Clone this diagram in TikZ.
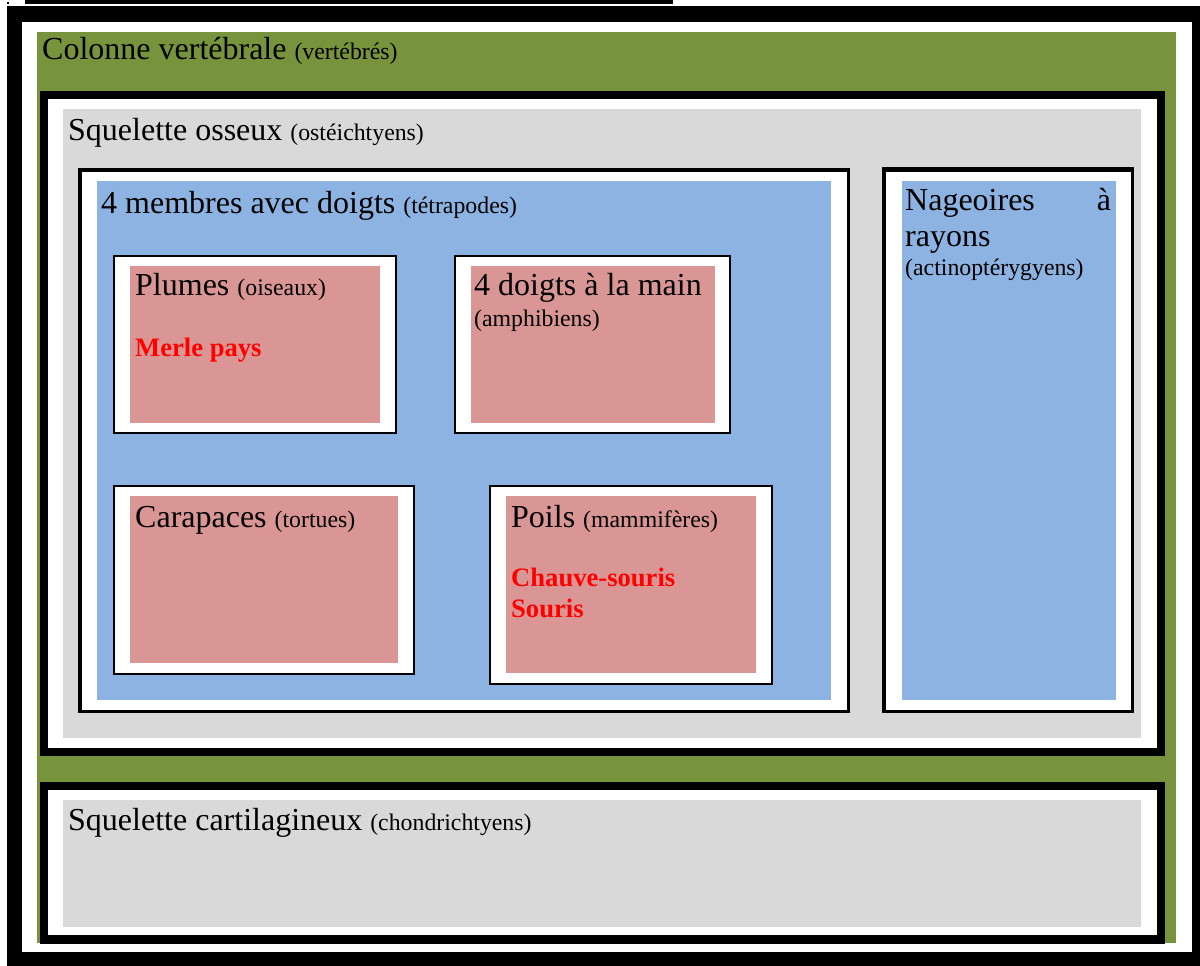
\documentclass[tikz,border=0pt]{standalone}
\usepackage{fontspec}
\setmainfont{Liberation Serif}
\definecolor{vert}{HTML}{77933C}
\definecolor{gris}{HTML}{D9D9D9}
\definecolor{bleu}{HTML}{8DB3E2}
\definecolor{rose}{HTML}{D99694}
\newcommand{\grand}{\fontsize{32}{36}\selectfont}
\newcommand{\petit}{\fontsize{23.8}{28}\selectfont}

\begin{document}
\begin{tikzpicture}[x=1pt,y=-1pt,
    titre/.style={anchor=base west, inner sep=0pt, font=\grand},
    sous/.style={anchor=base west, inner sep=0pt, font=\petit},
    espece/.style={anchor=base west, inner sep=0pt, text=red, font=\fontsize{26.6}{31}\selectfont\bfseries}]
    \useasboundingbox (0,0) rectangle (1200,966);
    \fill[white] (0,0) rectangle (1200,966);
    \fill (25,0) rectangle (673,4);
    \fill (7,2) rectangle (9,4);
    \fill (7,6) rectangle (1200,966);
    \fill[white] (22,22) rectangle (1192,952);
    \fill[vert] (37,32) rectangle (1176,943);

    \fill (40,91) rectangle (1165,756);
    \fill[white] (48,99) rectangle (1157,748);
    \fill[gris] (63,109) rectangle (1141,738);

    \fill (40,782) rectangle (1165,944);
    \fill[white] (48,790) rectangle (1157,935);
    \fill[gris] (63,800) rectangle (1141,927);

    \fill (78,168) rectangle (850,713);
    \fill[white] (82,172) rectangle (847,710);
    \fill[bleu] (97,181) rectangle (831,700);

    \fill (882,167) rectangle (1134,713);
    \fill[white] (886,172) rectangle (1131,710);
    \fill[bleu] (902,181) rectangle (1116,700);

    \fill (113,255) rectangle (397,434);
    \fill[white] (115,257) rectangle (395,432);
    \fill[rose] (130,266) rectangle (380,423);

    \fill (454,255) rectangle (731,434);
    \fill[white] (456,257) rectangle (729,432);
    \fill[rose] (471,266) rectangle (715,423);

    \fill (113,485) rectangle (415,675);
    \fill[white] (115,487) rectangle (413,673);
    \fill[rose] (130,496) rectangle (398,663);

    \fill (489,485) rectangle (773,685);
    \fill[white] (491,487) rectangle (771,683);
    \fill[rose] (506,496) rectangle (756,673);

    \node[titre] (colonne) at (42,60) {Colonne vertébrale {\petit(vertébrés)}};
    \node[titre] (osseux) at (68,140) {Squelette osseux {\petit(ostéichtyens)}};
    \node[titre] (tetra) at (101,213) {4 membres avec doigts {\petit(tétrapodes)}};
    \node[titre, text width=206pt, align=left] (nageoires) at (905,210)
        {Nageoires\hfill à\\rayons\\[-7pt]{\petit(actinoptérygyens)}};
    \node[titre] (plumes) at (135,295) {Plumes {\petit(oiseaux)}};
    \node[espece] (merle) at (135,356) {Merle pays};
    \node[titre] (doigts) at (474,295) {4 doigts à la main};
    \node[sous] (amphi) at (474,326) {(amphibiens)};
    \node[titre] (carapaces) at (135,527) {Carapaces {\petit(tortues)}};
    \node[titre] (poils) at (511,527) {Poils {\petit(mammifères)}};
    \node[espece] (chauve) at (511,586) {Chauve-souris};
    \node[espece] (souris) at (511,617) {Souris};
    \node[titre] (cartil) at (68,830) {Squelette cartilagineux {\petit(chondrichtyens)}};
\end{tikzpicture}
\end{document}
